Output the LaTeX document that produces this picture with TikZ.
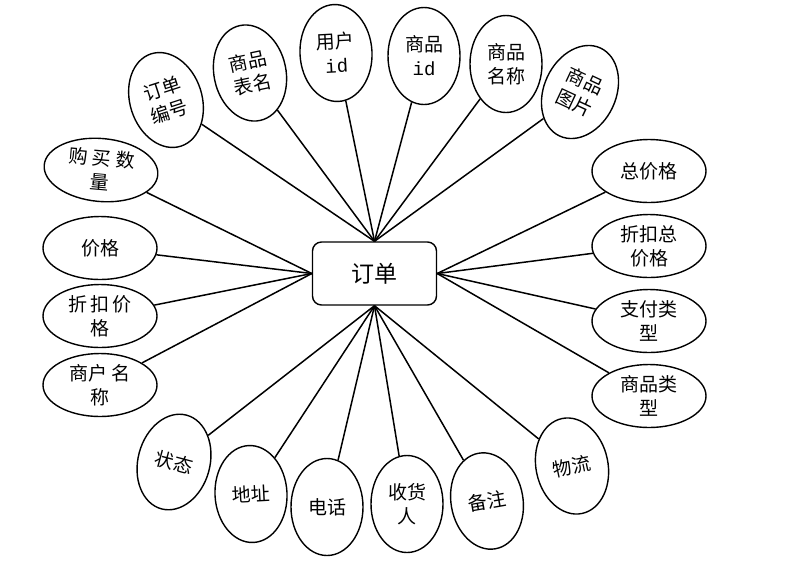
\documentclass[tikz,border=0pt]{standalone}
\usepackage{fontspec}
\newfontfamily\cjk{Noto Sans CJK SC}
\setmonofont{Liberation Mono}
\usetikzlibrary{shapes.geometric}
\tikzset{
  tallattr/.style={draw,ellipse,line width=1.4pt,minimum width=72pt,minimum height=97pt,
    inner sep=0pt,align=center,font=\cjk\fontsize{19}{24}\selectfont},
  wideattr/.style={draw,ellipse,line width=1.4pt,minimum width=114pt,minimum height=63pt,
    inner sep=0pt,align=center,font=\cjk\fontsize{19}{24}\selectfont},
  entity/.style={draw,rounded corners=9pt,line width=1.4pt,minimum width=124pt,
    minimum height=63pt,font=\cjk\fontsize{23}{26}\selectfont},
  link/.style={line width=1.5pt}
}
\begin{document}
\begin{tikzpicture}[x=1pt,y=-1pt]
  \useasboundingbox (0,0) rectangle (786,566);
  \node[entity] (dd) at (374.5,273.5) {订单};
  % attributes above and below
  \foreach \nm/\px/\py/\rot/\txt in {
      ddbh/166/100/18/{订单\\编号},
      spbm/250/73/12/{商品\\表名},
      yhid/336/53/3/{用户\\\texttt{id}},
      spid/424/56/0/{商品\\\texttt{id}},
      spmc/506/64/0/{商品\\名称},
      sptp/580/92/-25/{商品\\图片},
      wl/572/466/12/{物流},
      bz/487/501/10/{备注},
      shr/407/504/0/{收货\\人},
      dh/327/507/0/{电话},
      dz/251/494/3/{地址},
      zt/174/462/-15/{状态}} {
    \node[tallattr,rotate=\rot] (\nm) at (\px,\py) {\txt};
  }
  % attributes on the sides
  \foreach \nm/\px/\py/\rot/\txt in {
      zjg/649/171/0/{总价格},
      zkzjg/649/246/0/{折扣总\\价格},
      zflx/649/321/0/{支付类\\型},
      splx/649/396/0/{商品类\\型},
      shmc/100/385/0/{商户 名\\称},
      zkjg/100/316/0/{折\,扣\,价\\格},
      jg/100/248/0/{价格},
      gmsl/101/170/-5/{购 买 数\\量}} {
    \node[wideattr,rotate=\rot] (\nm) at (\px,\py) {\txt};
  }
  \foreach \nm in {ddbh,spbm,yhid,spid,spmc,sptp} {
    \draw[link] (\nm) -- (dd.north);
  }
  \foreach \nm in {wl,bz,shr,dh,dz,zt} {
    \draw[link] (\nm) -- (dd.south);
  }
  \foreach \nm in {zjg,zkzjg,zflx,splx} {
    \draw[link] (\nm) -- (dd.east);
  }
  \foreach \nm in {shmc,zkjg,jg,gmsl} {
    \draw[link] (\nm) -- (dd.west);
  }
\end{tikzpicture}
\end{document}
